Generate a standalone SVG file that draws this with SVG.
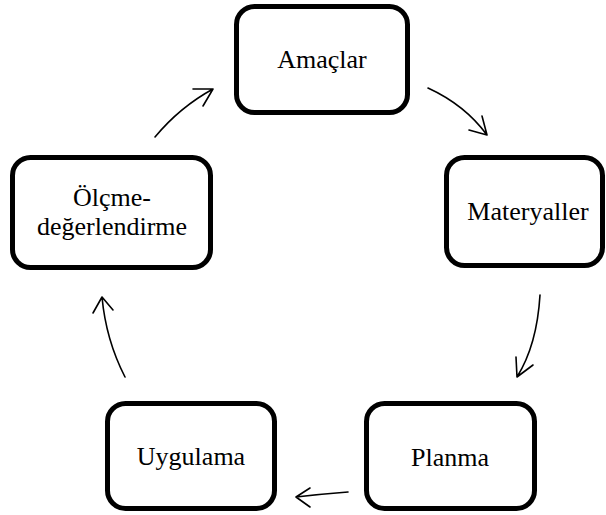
<svg xmlns="http://www.w3.org/2000/svg" width="606" height="515" viewBox="0 0 606 515">
<style>
.box{fill:#fff;stroke:#000;stroke-width:5}
.lbl{font-family:"Liberation Serif","Times New Roman",serif;font-size:26px;fill:#000;text-anchor:middle}
.con{fill:none;stroke:#000;stroke-width:1.6;stroke-linecap:round;stroke-linejoin:round}
</style>
<rect width="606" height="515" fill="#fff"/>
<g id="amaclar"><rect class="box" x="236.5" y="6.5" width="171" height="106" rx="18"/><text class="lbl" x="322" y="68">Amaçlar</text></g>
<g id="materyaller"><rect class="box" x="446.5" y="157.5" width="156" height="108" rx="18"/><text class="lbl" x="528" y="220">Materyaller</text></g>
<g id="planma"><rect class="box" x="366.5" y="403.5" width="168" height="105" rx="18"/><text class="lbl" x="450" y="466">Planma</text></g>
<g id="uygulama"><rect class="box" x="107.5" y="403.5" width="167" height="105" rx="18"/><text class="lbl" x="191" y="465">Uygulama</text></g>
<g id="olcme"><rect class="box" x="12.5" y="157.5" width="198" height="110" rx="18"/><text class="lbl" x="112" y="206">Ölçme-</text><text class="lbl" x="112" y="235">değerlendirme</text></g>
<g id="connectors">
<path class="con" d="M428,88 Q465,105 487,135 M469,130 L487,135 L482,116"/>
<path class="con" d="M540,295 Q537,345 517,377 M516,357 L517,377 L533,365"/>
<path class="con" d="M348,492 Q322,494 296,497 M310,488 L296,497 L310,507"/>
<path class="con" d="M125,377 Q106,340 102,297 M93,313 L102,297 L113,310"/>
<path class="con" d="M155,137 Q180,107 213,89 M193,89 L213,89 L203,106"/>
</g>
</svg>
